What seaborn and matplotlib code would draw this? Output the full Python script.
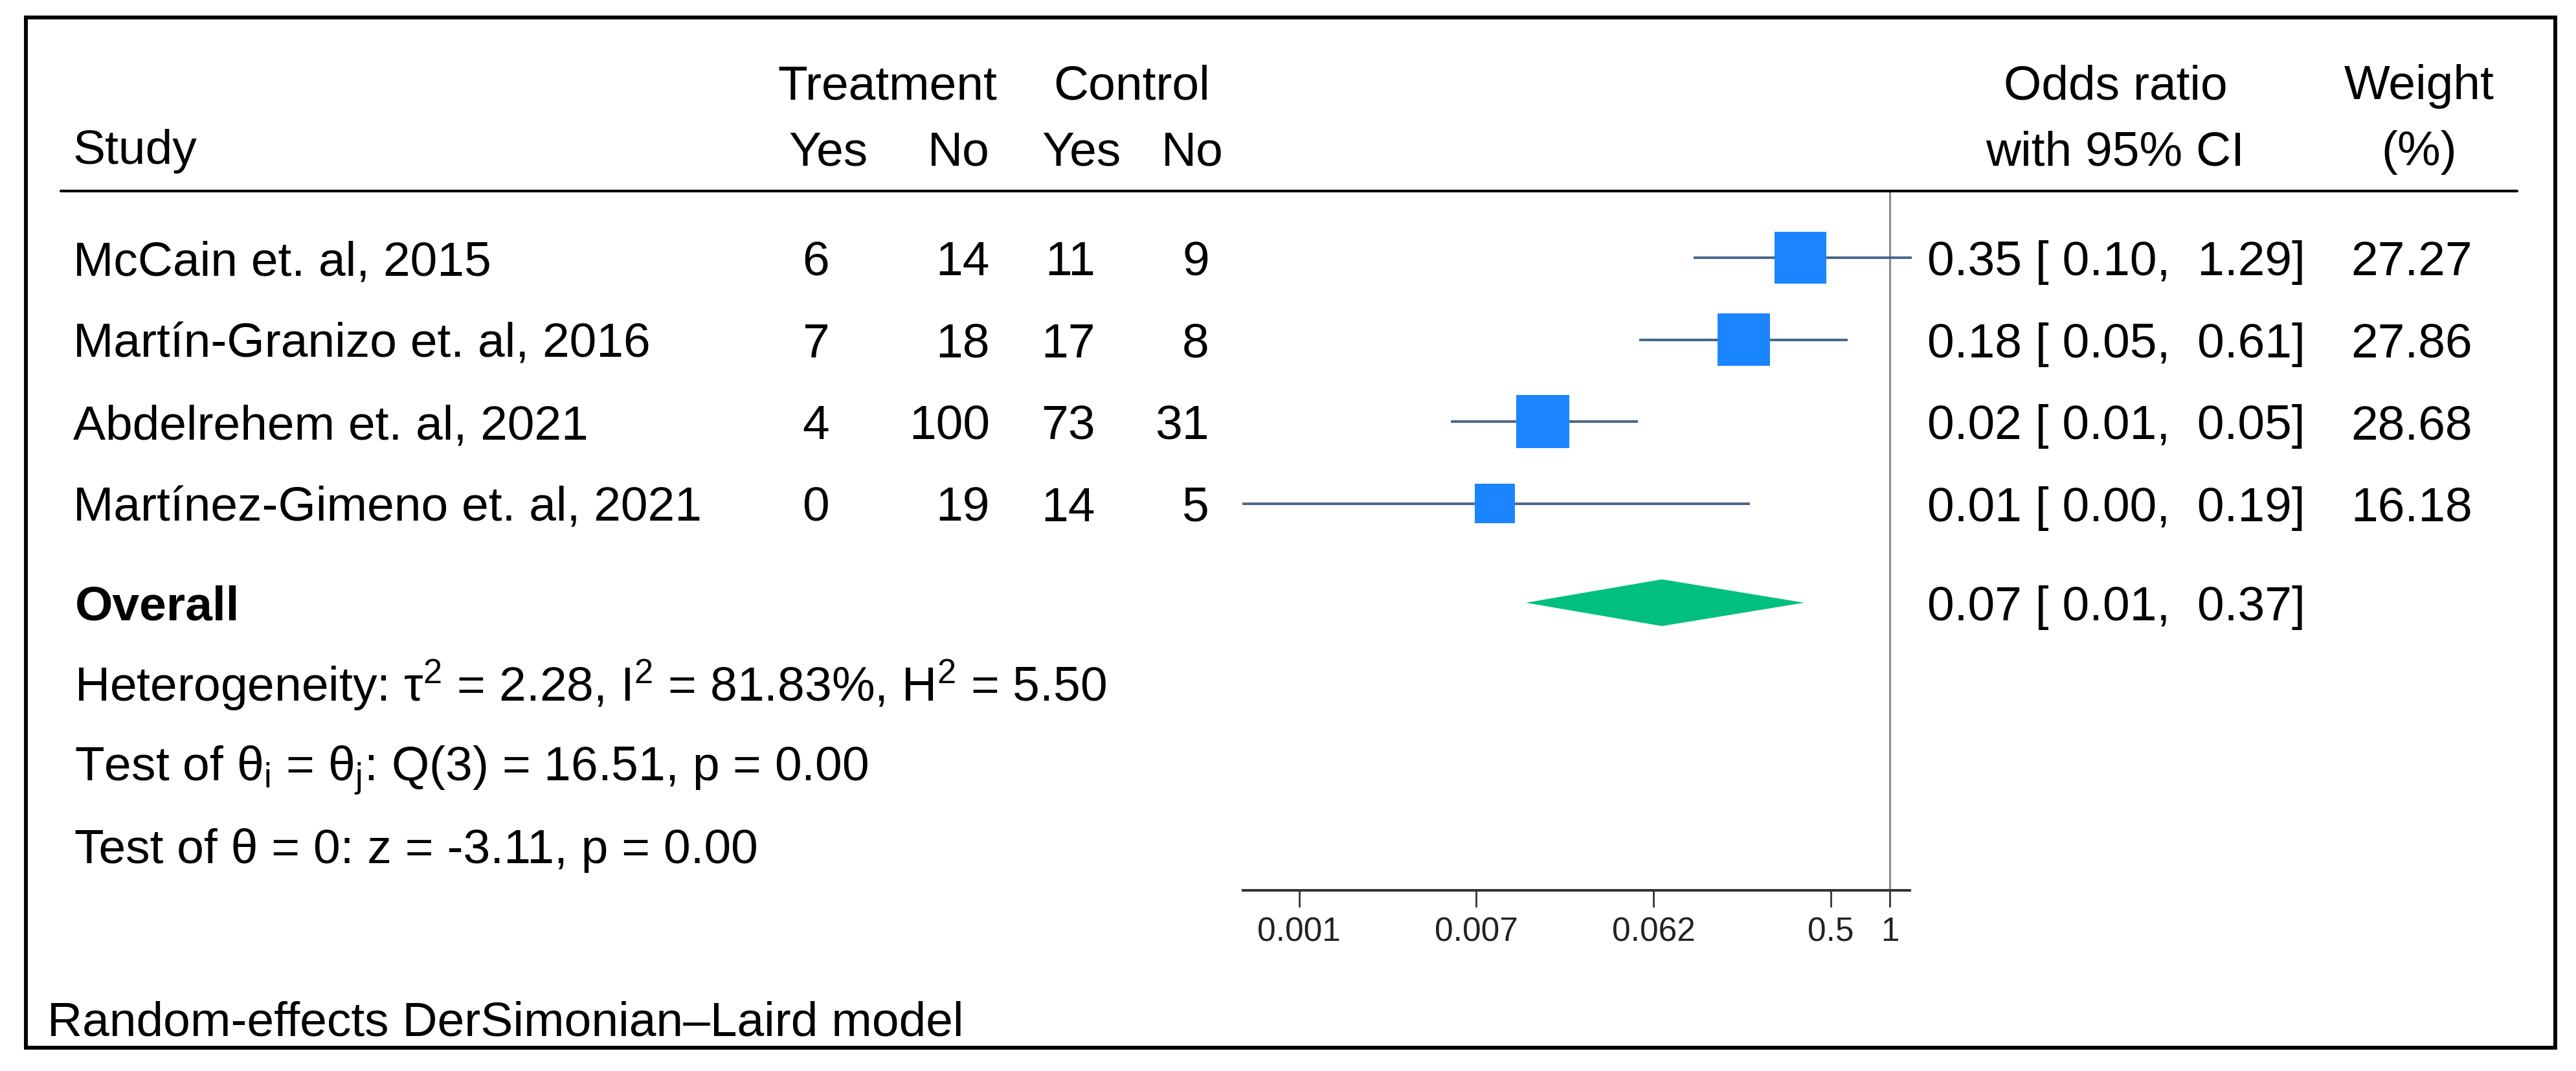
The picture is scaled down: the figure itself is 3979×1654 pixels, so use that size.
import numpy as np
import pandas as pd
import matplotlib
matplotlib.use("Agg")
import matplotlib.pyplot as plt
import matplotlib.transforms as mtransforms
from matplotlib.patches import Rectangle
from matplotlib.lines import Line2D
from matplotlib.ticker import NullLocator
import seaborn as sns

# Study level data
studies = ["McCain et. al, 2015", "Martín-Granizo et. al, 2016",
           "Abdelrehem et. al, 2021", "Martínez-Gimeno et. al, 2021"]
treat_yes = [6, 7, 4, 0]
treat_no = [14, 18, 100, 19]
ctrl_yes = [11, 17, 73, 14]
ctrl_no = [9, 8, 31, 5]
odds_ratio = [0.35, 0.18, 0.017, 0.0097]
ci_low = [0.10, 0.053, 0.0058, 0.0005]
ci_high = [1.29, 0.61, 0.052, 0.194]
weight = [27.27, 27.86, 28.68, 16.18]

# Pooled estimate
overall_or = 0.069
overall_low = 0.014
overall_high = 0.366

# Heterogeneity / tests
tau2, i2, h2 = 2.28, 81.83, 5.50
q_df, q_stat, q_p = 3, 16.51, 0.00
z_stat, z_p = -3.11, 0.00

tick_values = [0.5 / 8 ** 3, 0.5 / 8 ** 2, 0.5 / 8, 0.5, 1]
tick_labels = ["0.001", "0.007", "0.062", "0.5", "1"]

# colours
sq_blue = "#1a85ff"
ci_col = "#4a6a8a"
dia_green = "#00bf7f"

W, H = 3980, 1654


def fx(x):
    return x / W


def fy(y):
    return 1 - y / H


sns.set_theme(style="white")
plt.rcParams["font.family"] = ["Liberation Sans", "DejaVu Sans"]
plt.rcParams["mathtext.fontset"] = "custom"
plt.rcParams["mathtext.rm"] = "Liberation Sans"
plt.rcParams["mathtext.it"] = "Liberation Sans:italic"
plt.rcParams["mathtext.bf"] = "Liberation Sans:bold"

fig = plt.figure(figsize=(W / 100, H / 100), dpi=100)
fig.patch.set_facecolor("white")

# forest panel
ax = fig.add_axes([fx(1920), fy(1375), fx(2950) - fx(1920), (1375 - 295) / H])
ax.set_facecolor("none")

rows = np.arange(1, len(studies) + 1)
overall_row = 5.21

df = pd.DataFrame({"row": rows, "or": odds_ratio, "lo": ci_low,
                   "hi": ci_high, "weight": weight})

ax.hlines(df["row"], df["lo"], df["hi"], color=ci_col, lw=2.9, zorder=2, clip_on=False)
k = 121.4  # marker area per weight unit
sns.scatterplot(data=df, x="or", y="row", size="weight",
                sizes=(k * min(weight), k * max(weight)), marker="s",
                color=sq_blue, linewidth=0, legend=False, ax=ax, zorder=3,
                clip_on=False)

dh = 0.285
ax.fill([overall_low, overall_or, overall_high, overall_or],
        [overall_row, overall_row - dh, overall_row, overall_row + dh],
        color=dia_green, lw=0, zorder=3)

ax.axvline(1, color="#8c8c8c", lw=2.2, zorder=1)

ax.set_xscale("log")
ax.set_xlim(np.exp(-7.59), np.exp(0.2356))
ax.set_ylim(8.72, 0.186)
ax.set_xticks(tick_values)
ax.set_xticklabels(tick_labels)
ax.xaxis.set_minor_locator(NullLocator())
ax.set_yticks([])
ax.set_xlabel("")
ax.set_ylabel("")
for side in ["top", "left", "right"]:
    ax.spines[side].set_visible(False)
ax.spines["bottom"].set_linewidth(2.9)
ax.spines["bottom"].set_color("#333333")
ax.tick_params(axis="x", bottom=True, direction="out", length=19, width=2,
               color="#333333", labelsize=37, pad=10, labelcolor="#222222")

# frame and header rule
fig.add_artist(Rectangle((fx(40), fy(1618)), fx(3947) - fx(40), (1618 - 27) / H,
                         fill=False, lw=4.3, edgecolor="black",
                         transform=fig.transFigure))
fig.add_artist(Line2D([fx(94), fx(3888)], [fy(295), fy(295)],
                      transform=fig.transFigure, color="black", lw=3))

fs = 54
txt = dict(fontsize=fs, color="black", va="baseline")

# header
fig.text(fx(1371), fy(153), "Treatment", ha="center", **txt)
fig.text(fx(1748), fy(153), "Control", ha="center", **txt)
fig.text(fx(113), fy(253), "Study", ha="left", **txt)
fig.text(fx(1341), fy(255), "Yes", ha="right", **txt)
fig.text(fx(1529), fy(255), "No", ha="right", **txt)
fig.text(fx(1732), fy(255), "Yes", ha="right", **txt)
fig.text(fx(1890), fy(255), "No", ha="right", **txt)
fig.text(fx(3268), fy(153), "Odds ratio", ha="center", **txt)
fig.text(fx(3267), fy(255), "with 95% CI", ha="center", **txt)
fig.text(fx(3737), fy(153), "Weight", ha="center", **txt)
fig.text(fx(3737), fy(255), "(%)", ha="center", **txt)

# rows: x in figure fraction, y follows the forest axis rows
row_trans = mtransforms.blended_transform_factory(fig.transFigure, ax.transData)
row_trans = mtransforms.offset_copy(row_trans, fig=fig, x=0, y=-27, units="dots")

for i, r in enumerate(rows):
    fig.text(fx(113), r, studies[i], ha="left", transform=row_trans, **txt)
    fig.text(fx(1281), r, str(treat_yes[i]), ha="right", transform=row_trans, **txt)
    fig.text(fx(1529), r, str(treat_no[i]), ha="right", transform=row_trans, **txt)
    fig.text(fx(1692), r, str(ctrl_yes[i]), ha="right", transform=row_trans, **txt)
    fig.text(fx(1868), r, str(ctrl_no[i]), ha="right", transform=row_trans, **txt)
    fig.text(fx(2977), r, f"{odds_ratio[i]:.2f} [{ci_low[i]:5.2f}, {ci_high[i]:5.2f}]",
             ha="left", transform=row_trans, **txt)
    fig.text(fx(3819), r, f"{weight[i]:.2f}", ha="right", transform=row_trans, **txt)

fig.text(fx(116), overall_row, "Overall", ha="left", fontweight="bold",
         transform=row_trans, **txt)
fig.text(fx(2977), overall_row,
         f"{overall_or:.2f} [{overall_low:5.2f}, {overall_high:5.2f}]",
         ha="left", transform=row_trans, **txt)

# statistics
het = (f"Heterogeneity: τ$^{{2}}$ = {tau2:.2f}, I$^{{2}}$ = {i2:.2f}%, "
       f"H$^{{2}}$ = {h2:.2f}")
q_txt = (f"Test of θ$_{{\\mathrm{{i}}}}$ = θ$_{{\\mathrm{{j}}}}$: Q({q_df}) = {q_stat:.2f}, "
         f"p = {q_p:.2f}")
z_txt = f"Test of θ = 0: z = {z_stat:.2f}, p = {z_p:.2f}"
fig.text(fx(115), fy(1083), het, ha="left", **txt)
fig.text(fx(115), fy(1206), q_txt, ha="left", **txt)
fig.text(fx(115), fy(1333), z_txt, ha="left", **txt)

fig.text(fx(73), fy(1600), "Random-effects DerSimonian–Laird model", ha="left", **txt)

fig.savefig("out.png", dpi=100, facecolor="white")
